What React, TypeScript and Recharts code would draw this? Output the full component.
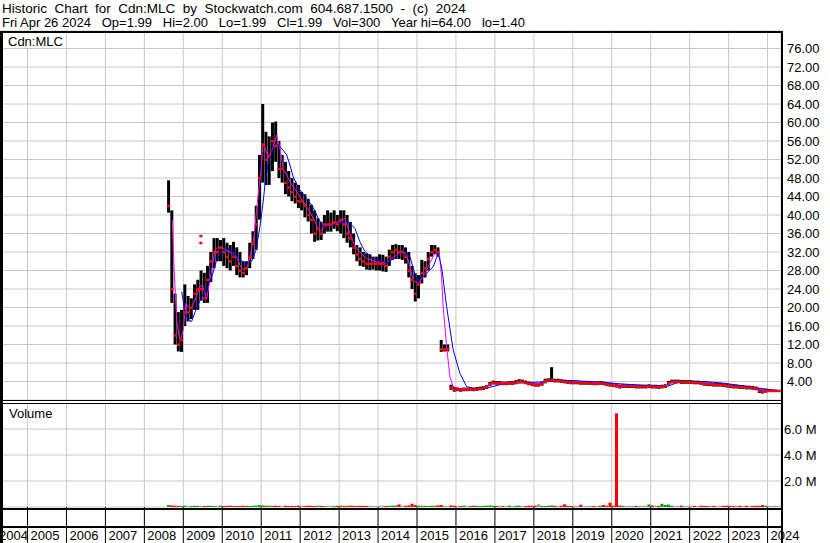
import React from "react";
import { ComposedChart, Bar, Line, Scatter, XAxis, YAxis, CartesianGrid, Cell } from "recharts";

const months: string[] = [
  "2008-08","2008-09","2008-10","2008-11","2008-12",
  "2009-01","2009-02","2009-03","2009-04","2009-05","2009-06","2009-07","2009-08","2009-09","2009-10","2009-11","2009-12",
  "2010-01","2010-02","2010-03","2010-04","2010-05","2010-06","2010-07","2010-08","2010-09","2010-10","2010-11","2010-12",
  "2011-01","2011-02","2011-03","2011-04","2011-05","2011-06","2011-07","2011-08","2011-09","2011-10","2011-11","2011-12",
  "2012-01","2012-02","2012-03","2012-04","2012-05","2012-06","2012-07","2012-08","2012-09","2012-10","2012-11","2012-12",
  "2013-01","2013-02","2013-03","2013-04","2013-05","2013-06","2013-07","2013-08","2013-09","2013-10","2013-11","2013-12",
  "2014-01","2014-02","2014-03","2014-04","2014-05","2014-06","2014-07","2014-08","2014-09","2014-10","2014-11","2014-12",
  "2015-01","2015-02","2015-03","2015-04","2015-05","2015-06","2015-07","2015-08","2015-09","2015-10","2015-11","2015-12",
  "2016-01","2016-02","2016-03","2016-04","2016-05","2016-06","2016-07","2016-08","2016-09","2016-10","2016-11","2016-12",
  "2017-01","2017-02","2017-03","2017-04","2017-05","2017-06","2017-07","2017-08","2017-09","2017-10","2017-11","2017-12",
  "2018-01","2018-02","2018-03","2018-04","2018-05","2018-06","2018-07","2018-08","2018-09","2018-10","2018-11","2018-12",
  "2019-01","2019-02","2019-03","2019-04","2019-05","2019-06","2019-07","2019-08","2019-09","2019-10","2019-11","2019-12",
  "2020-01","2020-02","2020-03","2020-04","2020-05","2020-06","2020-07","2020-08","2020-09","2020-10","2020-11","2020-12",
  "2021-01","2021-02","2021-03","2021-04","2021-05","2021-06","2021-07","2021-08","2021-09","2021-10","2021-11","2021-12",
  "2022-01","2022-02","2022-03","2022-04","2022-05","2022-06","2022-07","2022-08","2022-09","2022-10","2022-11","2022-12",
  "2023-01","2023-02","2023-03","2023-04","2023-05","2023-06","2023-07","2023-08","2023-09","2023-10","2023-11","2023-12",
  "2024-01","2024-02","2024-03","2024-04",
];

const high: number[] = [
  47.5, 41, 23, 19, 19.5,
  25, 22.5, 22, 25, 26, 28, 27.5, 29, 32, 35, 35, 34.6,
  35, 34, 33.5, 34.2, 33, 32, 30, 30, 34, 36.5, 42, 53,
  64, 58, 57, 60, 60.2, 56, 53, 51.5, 49.5, 48, 47, 46.5,
  45, 44.5, 43.5, 42.2, 41, 39.3, 38.5, 40, 41, 40.5, 41, 40,
  41, 41, 40, 38.5, 36, 33.5, 33, 32, 31.7, 31.5, 31, 31,
  31.5, 31.4, 31, 32.5, 33.5, 33.7, 33.5, 33.5, 33, 32, 29, 27.4,
  27, 30.3, 30, 32, 33.5, 33.5, 33, 13, 12, 12, 3.3, 2.8,
  2.7, 2.6, 2.7, 2.7, 2.8, 2.7, 2.8, 2.9, 3.0, 3.2, 3.9, 4.2,
  4.1, 4.1, 4.0, 4.0, 4.1, 4.1, 4.3, 4.5, 4.4, 4.2, 4.0, 3.8,
  3.7, 3.7, 3.9, 4.6, 4.7, 7.1, 4.6, 4.6, 4.5, 4.4, 4.3, 4.2,
  4.2, 4.2, 4.1, 4.1, 4.1, 4.1, 4.0, 4.0, 4.1, 4.0, 3.8, 3.7,
  3.6, 3.5, 3.3, 3.4, 3.4, 3.4, 3.4, 3.3, 3.3, 3.3, 3.3, 3.4,
  3.3, 3.3, 3.2, 3.3, 3.4, 4.1, 4.4, 4.4, 4.4, 4.3, 4.3, 4.3,
  4.3, 4.2, 4.2, 4.1, 3.9, 3.8, 3.8, 3.7, 3.7, 3.7, 3.6, 3.5,
  3.4, 3.3, 3.3, 3.2, 3.2, 3.1, 3.1, 3.0, 2.9, 2.5, 2.3, 2.4,
  2.3, 2.2, 2.2, 2.1,
];

const low: number[] = [
  40.5, 21, 12, 10.5, 10.4,
  16, 17, 17.5, 19.5, 19.5, 21.5, 21, 21, 25.5, 28.5, 30, 30,
  29, 28.5, 28, 29, 27, 26.5, 26.5, 27, 28.5, 30.5, 32.5, 39,
  47, 46.5, 46.5, 49.5, 51.5, 48, 47, 44.5, 44, 43, 42.5, 41.5,
  41, 39.5, 38.6, 36, 34.2, 34.5, 34.6, 36, 36.4, 36.4, 37, 36.5,
  36, 35, 34, 33, 31.5, 30, 29, 28.8, 28.2, 28.1, 28.2, 28,
  28, 27.8, 27.7, 29, 30.3, 30.5, 30.5, 30.3, 29.5, 26.5, 24, 21.3,
  22, 25.2, 26.5, 28, 31, 31.5, 31, 10.4, 10.5, 10.5, 2.2, 1.8,
  1.9, 1.8, 1.9, 1.9, 2.0, 1.9, 2.0, 2.1, 2.2, 2.4, 3.0, 3.4,
  3.3, 3.3, 3.2, 3.2, 3.3, 3.3, 3.4, 3.6, 3.6, 3.4, 3.2, 3.0,
  2.9, 2.9, 3.1, 3.6, 3.9, 3.9, 3.8, 3.8, 3.7, 3.6, 3.5, 3.4,
  3.4, 3.4, 3.3, 3.3, 3.3, 3.3, 3.2, 3.2, 3.3, 3.2, 3.0, 2.9,
  2.8, 2.7, 2.5, 2.6, 2.6, 2.6, 2.6, 2.5, 2.5, 2.5, 2.5, 2.6,
  2.5, 2.5, 2.4, 2.5, 2.6, 3.2, 3.6, 3.6, 3.6, 3.5, 3.5, 3.5,
  3.5, 3.4, 3.4, 3.3, 3.1, 3.0, 3.0, 2.9, 2.9, 2.9, 2.8, 2.7,
  2.6, 2.5, 2.5, 2.4, 2.4, 2.3, 2.3, 2.2, 2.1, 1.5, 1.4, 1.6,
  1.8, 1.8, 1.9, 1.9,
];

const close: number[] = [
  42, 24, 14, 12, 13,
  19, 19, 20, 23, 24, 24, 22, 26, 30, 32, 32, 33,
  32, 31, 30, 31, 29, 28, 27.5, 28.5, 31, 34, 38, 48,
  55, 52, 53, 56, 55, 50, 50, 47, 46, 45, 44, 43,
  43, 42, 40, 39, 36, 37, 36, 38, 38, 38, 38.5, 38,
  39, 38, 36, 35, 33, 31.5, 30.5, 30, 29.5, 29.5, 29.5, 29.5,
  29.5, 29.5, 29, 31, 32, 32.5, 32, 32, 31, 28, 26, 23,
  25, 27.5, 28.5, 30.5, 32, 32.5, 32, 11, 11, 11, 2.7, 2.3,
  2.3, 2.2, 2.3, 2.3, 2.4, 2.3, 2.4, 2.5, 2.6, 2.8, 3.5, 3.8,
  3.7, 3.7, 3.6, 3.6, 3.7, 3.7, 3.8, 4.0, 4.0, 3.8, 3.6, 3.4,
  3.3, 3.3, 3.5, 4.1, 4.3, 4.4, 4.2, 4.2, 4.1, 4.0, 3.9, 3.8,
  3.8, 3.8, 3.7, 3.7, 3.7, 3.7, 3.6, 3.6, 3.7, 3.6, 3.4, 3.3,
  3.2, 3.1, 2.9, 3.0, 3.0, 3.0, 3.0, 2.9, 2.9, 2.9, 2.9, 3.0,
  2.9, 2.9, 2.8, 2.9, 3.0, 3.7, 4.0, 4.0, 4.0, 3.9, 3.9, 3.9,
  3.9, 3.8, 3.8, 3.7, 3.5, 3.4, 3.4, 3.3, 3.3, 3.3, 3.2, 3.1,
  3.0, 2.9, 2.9, 2.8, 2.8, 2.7, 2.7, 2.6, 2.5, 2.0, 1.8, 2.0,
  2.0, 2.0, 2.0, 2.0,
];

// volume in millions of shares
const volume: number[] = [
  0.15, 0.12, 0.1, 0.09, 0.08,
  0.1, 0.09, 0.08, 0.1, 0.09, 0.1, 0.08, 0.09, 0.1, 0.08, 0.09, 0.1,
  0.08, 0.09, 0.1, 0.08, 0.09, 0.08, 0.1, 0.09, 0.08, 0.1, 0.12, 0.14,
  0.12, 0.1, 0.1, 0.09, 0.1, 0.08, 0.09, 0.1, 0.08, 0.09, 0.08, 0.1,
  0.09, 0.08, 0.1, 0.09, 0.08, 0.1, 0.09, 0.08, 0.09, 0.1, 0.08, 0.09,
  0.1, 0.09, 0.08, 0.1, 0.09, 0.08, 0.1, 0.09, 0.08, 0.1, 0.09, 0.08,
  0.09, 0.1, 0.08, 0.09, 0.1, 0.12, 0.2, 0.1, 0.09, 0.12, 0.25, 0.15,
  0.1, 0.09, 0.1, 0.08, 0.09, 0.1, 0.12, 0.15, 0.1, 0.09, 0.12, 0.1,
  0.09, 0.08, 0.1, 0.09, 0.08, 0.1, 0.09, 0.08, 0.09, 0.1, 0.12, 0.1,
  0.09, 0.1, 0.08, 0.09, 0.1, 0.08, 0.09, 0.1, 0.09, 0.08, 0.1, 0.09,
  0.1, 0.22, 0.09, 0.08, 0.1, 0.12, 0.09, 0.08, 0.1, 0.2, 0.09, 0.08,
  0.1, 0.09, 0.18, 0.08, 0.09, 0.1, 0.08, 0.09, 0.1, 0.15, 0.1, 0.33,
  0.1, 7.2, 0.1, 0.09, 0.08, 0.1, 0.09, 0.08, 0.1, 0.09, 0.1, 0.2,
  0.12, 0.1, 0.09, 0.25, 0.15, 0.18, 0.1, 0.09, 0.08, 0.1, 0.09, 0.08,
  0.1, 0.09, 0.08, 0.1, 0.09, 0.08, 0.1, 0.09, 0.08, 0.1, 0.09, 0.1,
  0.09, 0.08, 0.1, 0.09, 0.08, 0.1, 0.09, 0.08, 0.1, 0.09, 0.15, 0.1,
  0.09, 0.08, 0.1, 0.08,
];

// short moving average (magenta)
const fastAvgT: number[] = [
  2008.717, 2008.76, 2008.83, 2008.896, 2008.932, 2008.999, 2009.068, 2009.153, 2009.215, 2009.299,
  2009.428, 2009.487, 2009.6, 2009.728, 2009.813, 2009.897, 2010.026, 2010.154, 2010.282, 2010.385,
  2010.472, 2010.565, 2010.642, 2010.729, 2010.814, 2010.898, 2010.993, 2011.045, 2011.096, 2011.181,
  2011.268, 2011.396, 2011.481, 2011.566, 2011.738, 2011.91, 2012.079, 2012.251, 2012.423, 2012.508,
  2012.636, 2012.849, 2013.021, 2013.149, 2013.278, 2013.406, 2013.534, 2013.706, 2013.963, 2014.22,
  2014.477, 2014.646, 2014.774, 2014.902, 2015.031, 2015.159, 2015.331, 2015.46, 2015.57, 2015.631,
  2015.672, 2015.76, 2015.845, 2015.929, 2016.101, 2016.614, 2016.871, 2017.051, 2017.641, 2018.155,
  2018.411, 2018.925, 2019.695, 2020.08, 2020.721, 2021.363, 2021.543, 2022.262, 2022.775, 2023.288,
  2023.673, 2023.93, 2024.34,
];
const fastAvgV: number[] = [
  38.9, 29, 17.3, 13.7, 13.0, 15.1, 20.9, 19.8, 19.9, 21.6,
  24.5, 24.9, 21.8, 28.1, 32.4, 33.1, 32.8, 32.1, 31.7, 30.6,
  28.8, 28.1, 28.8, 31.7, 35.3, 42.5, 49.7, 55.5, 54.6, 52.3,
  53.7, 57.3, 54.4, 50.1, 47.2, 45.0, 42.9, 40.7, 37.8, 36.4,
  37.5, 38.2, 38.6, 39.3, 36.0, 33.3, 31.9, 30.6, 29.9, 29.6,
  31.4, 32.4, 30.3, 25.9, 25.2, 26.7, 29.6, 31.7, 32.1, 26.7,
  20.2, 11.5, 5.0, 2.9, 2.4, 2.4, 3.2, 3.7, 3.9, 3.5,
  4.2, 4.1, 3.7, 3.3, 3.0, 2.9, 3.8, 3.8, 3.3, 2.9,
  2.6, 2.0, 2.0,
];

// long moving average (blue)
const slowAvgT: number[] = [
  2008.958, 2009.043, 2009.127, 2009.215, 2009.299, 2009.428, 2009.6, 2009.728, 2009.856, 2009.985,
  2010.113, 2010.282, 2010.411, 2010.583, 2010.755, 2010.865, 2010.968, 2011.052, 2011.096, 2011.181,
  2011.309, 2011.396, 2011.525, 2011.653, 2011.738, 2011.822, 2011.994, 2012.166, 2012.336, 2012.464,
  2012.592, 2012.764, 2013.021, 2013.234, 2013.406, 2013.534, 2013.663, 2013.876, 2014.22, 2014.477,
  2014.646, 2014.818, 2014.99, 2015.159, 2015.416, 2015.544, 2015.631, 2015.76, 2015.929, 2016.101,
  2016.273, 2016.486, 2016.743, 2016.999, 2017.256, 2017.898, 2018.411, 2018.925, 2019.695, 2020.208,
  2020.978, 2021.44, 2021.697, 2022.39, 2022.903, 2023.417, 2023.93, 2024.34,
];
const slowAvgV: number[] = [
  23.4, 19.0, 17.2, 17.0, 19.0, 21.5, 24.2, 26.5, 30.3, 32.1,
  32.6, 32.1, 30.6, 29.6, 30.0, 32.4, 37.5, 43.0, 46.5, 51.5,
  54.4, 55.3, 54.4, 53.0, 50.8, 48.2, 45.4, 43.6, 41.6, 39.3,
  37.5, 37.8, 38.2, 38.6, 37.1, 34.2, 32.1, 30.6, 29.6, 31.0,
  32.4, 31.0, 25.9, 26.7, 28.8, 31.7, 28.8, 20.2, 10.8, 5.8,
  2.9, 2.4, 2.5, 3.0, 3.6, 3.8, 4.0, 4.2, 3.9, 3.5,
  3.1, 3.0, 3.8, 4.0, 3.6, 3.0, 2.4, 2.0,
];

// isolated close ticks away from the bars
const strayT: number[] = [2009.45, 2009.45];
const strayV: number[] = [35.5, 34];

const yearTicks: number[] = [2005, 2006, 2007, 2008, 2009, 2010, 2011, 2012, 2013, 2014, 2015, 2016, 2017, 2018, 2019, 2020, 2021, 2022, 2023, 2024];
const priceTicks: number[] = [4, 8, 12, 16, 20, 24, 28, 32, 36, 40, 44, 48, 52, 56, 60, 64, 68, 72, 76];
const volumeTicks: number[] = [2, 4, 6];

const X0 = 2004.345;
const X1 = 2024.345;

const FONT = '"Liberation Sans", Arial, Helvetica, sans-serif';

const toYear = (m: string) => {
  const [y, mo] = m.split("-").map(Number);
  return y + (mo - 0.5) / 12;
};

const rows = months.map((m, i) => ({
  t: toYear(m),
  lo: low[i],
  span: high[i] - low[i],
  close: close[i],
  vol: volume[i],
  dir: i === 0 ? 1 : Math.sign(close[i] - close[i - 1]),
}));
const fastRows = fastAvgT.map((t, i) => ({ t, v: fastAvgV[i] }));
const slowRows = slowAvgT.map((t, i) => ({ t, v: slowAvgV[i] }));
const strayRows = strayT.map((t, i) => ({ t, close: strayV[i] }));

const CloseMark = (p: any) => (
  <rect x={p.cx - 1.5} y={p.cy - 1} width={3} height={2.5} fill="#ff0000" />
);

const YearTick = (p: any) => {
  const { x, y, payload } = p;
  const v = payload.value as number;
  const isStart = v < yearTicks[0];
  return (
    <g>
      {!isStart && <line x1={x} x2={x} y1={y} y2={y + 40} stroke="#000" strokeWidth={1} />}
      <text x={isStart ? x - 3 : x + 3} y={y + 32.5} fontSize={13} fill="#000" fontFamily={FONT}>
        {String(Math.floor(v))}
      </text>
    </g>
  );
};

const box = (left: number, top: number, width: number, height: number, extra: any = {}) => ({
  position: "absolute" as const,
  left,
  top,
  width,
  height,
  ...extra,
});

const MARGIN = { top: 0, right: 0, bottom: 0, left: 2 };

export default function App() {
  return (
    <div style={box(0, 0, 830, 543, { background: "#fff", overflow: "hidden", fontFamily: FONT, color: "#000" })}>
      <div style={box(2, 1, 828, 15, { fontSize: 13.5, lineHeight: "15px", whiteSpace: "pre" })}>
        {"Historic  Chart  for  Cdn:MLC  by  Stockwatch.com  604.687.1500  -  (c)  2024"}
      </div>
      <div style={box(2, 15, 828, 15, { fontSize: 13, lineHeight: "15px", whiteSpace: "pre" })}>
        {"Fri Apr 26 2024   Op=1.99   Hi=2.00   Lo=1.99   Cl=1.99   Vol=300   Year hi=64.00   lo=1.40"}
      </div>

      {/* price panel: grid, axis and hi-lo bars */}
      <div style={box(0, 30, 830, 370)}>
        <ComposedChart width={830} height={370} data={rows} margin={MARGIN}>
          <CartesianGrid stroke="#c8c8c8" strokeWidth={1} />
          <XAxis type="number" dataKey="t" domain={[X0, X1]} ticks={yearTicks} interval={0} allowDataOverflow hide />
          <YAxis
            orientation="right"
            width={49}
            domain={[0, 80]}
            ticks={priceTicks}
            interval={0}
            allowDataOverflow
            axisLine={false}
            tickLine={false}
            tickSize={4}
            tickMargin={2}
            tickFormatter={(v: number) => v.toFixed(2)}
            tick={{ fill: "#000", fontSize: 13, fontFamily: FONT }}
          />
          <Bar dataKey="lo" stackId="hl" fill="#ffffff" fillOpacity={0} barSize={3} isAnimationActive={false} />
          <Bar dataKey="span" stackId="hl" fill="#000000" barSize={3} isAnimationActive={false} />
        </ComposedChart>
      </div>

      {/* price panel overlay: close ticks and moving averages */}
      <div style={box(0, 30, 830, 370, { pointerEvents: "none" })}>
        <ComposedChart width={830} height={370} data={rows} margin={{ top: 0, right: 49, bottom: 0, left: 2 }}>
          <XAxis type="number" dataKey="t" domain={[X0, X1]} allowDataOverflow hide />
          <YAxis domain={[0, 80]} allowDataOverflow hide />
          <Scatter dataKey="close" shape={CloseMark} isAnimationActive={false} />
          <Scatter data={strayRows} dataKey="close" shape={CloseMark} isAnimationActive={false} />
          <Line data={fastRows} dataKey="v" type="linear" stroke="#ff00ff" strokeWidth={1} dot={false} isAnimationActive={false} />
          <Line data={slowRows} dataKey="v" type="linear" stroke="#0000ff" strokeWidth={1} dot={false} isAnimationActive={false} />
        </ComposedChart>
      </div>

      {/* volume panel with the year axis */}
      <div style={box(0, 403, 830, 140)}>
        <ComposedChart width={830} height={140} data={rows} margin={MARGIN}>
          <CartesianGrid stroke="#c8c8c8" strokeWidth={1} />
          <XAxis
            type="number"
            dataKey="t"
            domain={[X0, X1]}
            ticks={[X0, ...yearTicks]}
            interval={0}
            allowDataOverflow
            height={36}
            axisLine={false}
            tickLine={false}
            tickSize={0}
            tickMargin={0}
            tick={<YearTick />}
          />
          <YAxis
            orientation="right"
            width={49}
            domain={[0, 8]}
            ticks={volumeTicks}
            interval={0}
            allowDataOverflow
            axisLine={false}
            tickLine={false}
            tickSize={1}
            tickMargin={2}
            tickFormatter={(v: number) => v.toFixed(1) + " M"}
            tick={{ fill: "#000", fontSize: 13, fontFamily: FONT }}
          />
          <Bar dataKey="vol" barSize={3} isAnimationActive={false}>
            {rows.map((r, i) => (
              <Cell key={i} fill={r.dir > 0 ? "#00a000" : r.dir < 0 ? "#ff0000" : "#a0a0a0"} />
            ))}
          </Bar>
        </ComposedChart>
      </div>

      <div style={box(3, 33, 62, 15, { background: "#fff" })} />
      <div style={box(8, 34, 80, 15, { fontSize: 13, lineHeight: "15px", whiteSpace: "pre" })}>Cdn:MLC</div>
      <div style={box(9, 406, 80, 15, { fontSize: 13, lineHeight: "15px", whiteSpace: "pre" })}>Volume</div>

      <div style={box(0, 31, 783, 2, { background: "#000" })} />
      <div style={box(0, 31, 3, 512, { background: "#000" })} />
      <div style={box(781, 31, 2, 512, { background: "#000" })} />
      <div style={box(0, 400, 783, 1, { background: "#000" })} />
      <div style={box(0, 403, 783, 1, { background: "#000" })} />
      <div style={box(0, 508, 783, 2, { background: "#000" })} />
      <div style={box(0, 526, 783, 2, { background: "#000" })} />
    </div>
  );
}
